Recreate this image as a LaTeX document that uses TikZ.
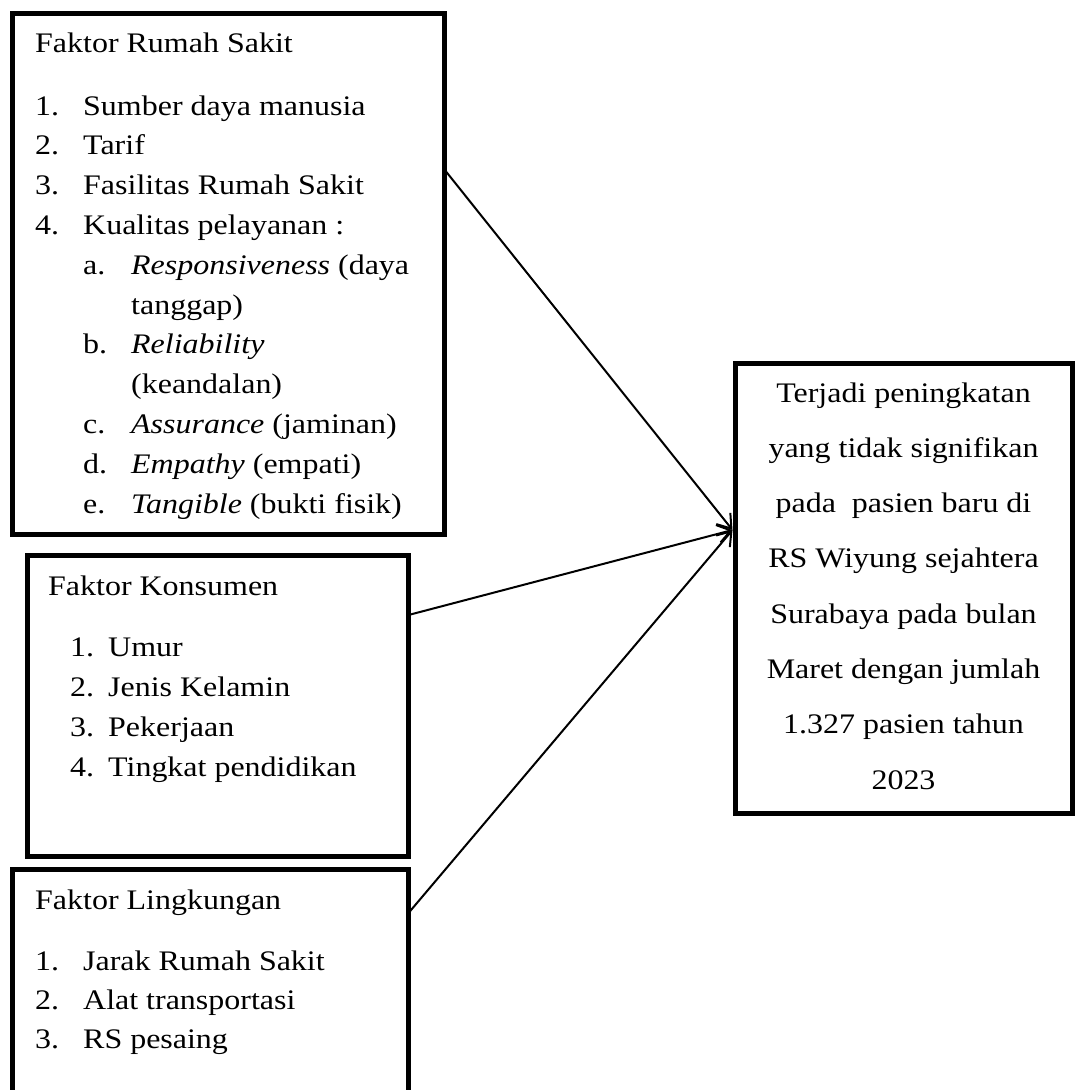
\documentclass[tikz,border=0pt]{standalone}
\usepackage{fontspec}
\setmainfont[FakeStretch=1.13]{Liberation Serif}
\usetikzlibrary{arrows.meta,calc}
\begin{document}
\begin{tikzpicture}[x=1pt,y=-1pt,
  box/.style={draw, line width=5pt, inner sep=0pt, outer sep=0pt, anchor=north west},
  txt/.style={anchor=base west, inner sep=0pt, font=\fontsize{28.3}{33}\selectfont},
  ctxt/.style={anchor=base, inner sep=0pt, font=\fontsize{28.3}{33}\selectfont},
  conn/.style={line width=2pt, -{Straight Barb[length=13pt,width=18pt]}}]
\useasboundingbox (0,0) rectangle (1077,1090);
% boxes
\node[box, minimum width=431.5pt, minimum height=520.5pt] (b1) at (12.5,13.5) {};
\node[box, minimum width=381pt, minimum height=301pt] (b2) at (27.5,555) {};
\node[box, minimum width=396pt, minimum height=250pt] (b3) at (12.5,869) {};
\node[box, minimum width=337pt, minimum height=450pt] (rb) at (735,363) {};
% box 1 text
\node[txt] (h1) at (35,52) {Faktor Rumah Sakit};
\node[txt] (n1) at (35,115) {1.};
\node[txt] (t1) at (83,115) {Sumber daya manusia};
\node[txt] (n2) at (35,154.8) {2.};
\node[txt] (t2) at (83,154.8) {Tarif};
\node[txt] (n3) at (35,194.6) {3.};
\node[txt] (t3) at (83,194.6) {Fasilitas Rumah Sakit};
\node[txt] (n4) at (35,234.4) {4.};
\node[txt] (t4) at (83,234.4) {Kualitas pelayanan :};
\node[txt] (na) at (83,274.2) {a.};
\node[txt] (ta) at (131,274.2) {\textit{Responsiveness} (daya};
\node[txt] (ta2) at (131,314) {tanggap)};
\node[txt] (nb) at (83,353.8) {b.};
\node[txt] (tb) at (131,353.8) {\textit{Reliability}};
\node[txt] (tb2) at (131,393.6) {(keandalan)};
\node[txt] (nc) at (83,433.4) {c.};
\node[txt] (tc) at (131,433.4) {\textit{Assurance} (jaminan)};
\node[txt] (nd) at (83,473.2) {d.};
\node[txt] (td) at (131,473.2) {\textit{Empathy} (empati)};
\node[txt] (ne) at (83,513) {e.};
\node[txt] (te) at (131,513) {\textit{Tangible} (bukti fisik)};
% box 2 text
\node[txt] (h2) at (48,595) {Faktor Konsumen};
\node[txt] (k1) at (70,656) {1.};
\node[txt] (kt1) at (108,656) {Umur};
\node[txt] (k2) at (70,696) {2.};
\node[txt] (kt2) at (108,696) {Jenis Kelamin};
\node[txt] (k3) at (70,736) {3.};
\node[txt] (kt3) at (108,736) {Pekerjaan};
\node[txt] (k4) at (70,776) {4.};
\node[txt] (kt4) at (108,776) {Tingkat pendidikan};
% box 3 text
\node[txt] (h3) at (35,909) {Faktor Lingkungan};
\node[txt] (l1) at (35,970) {1.};
\node[txt] (lt1) at (83,970) {Jarak Rumah Sakit};
\node[txt] (l2) at (35,1009) {2.};
\node[txt] (lt2) at (83,1009) {Alat transportasi};
\node[txt] (l3) at (35,1048) {3.};
\node[txt] (lt3) at (83,1048) {RS pesaing};
% right box text
\node[ctxt] (r1) at (903.5,402) {Terjadi peningkatan};
\node[ctxt] (r2) at (903.5,457.3) {yang tidak signifikan};
\node[ctxt] (r3) at (903.5,512.6) {pada~ pasien baru di};
\node[ctxt] (r4) at (903.5,567.9) {RS Wiyung sejahtera};
\node[ctxt] (r5) at (903.5,623.2) {Surabaya pada bulan};
\node[ctxt] (r6) at (903.5,678.5) {Maret dengan jumlah};
\node[ctxt] (r7) at (903.5,733.8) {1.327 pasien tahun};
\node[ctxt] (r8) at (903.5,789.1) {2023};
% connectors
\draw[conn] ($(b1.north east)+(0,155.5)$) -- ($(rb.north west)+(-2.5,167)$);
\draw[conn] ($(b2.north east)+(0,60)$) -- ($(rb.north west)+(-2.5,167)$);
\draw[conn] ($(b3.north east)+(0,44)$) -- ($(rb.north west)+(-2.5,167)$);
\end{tikzpicture}
\end{document}
